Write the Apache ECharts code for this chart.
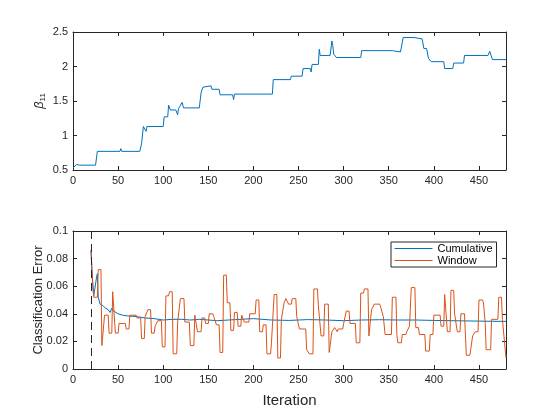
<!DOCTYPE html>
<html>
<head>
<meta charset="utf-8">
<script src="https://cdn.jsdelivr.net/npm/echarts@6/dist/echarts.min.js"></script>
<style>
html, body { margin: 0; padding: 0; background: #fff; }
#main { width: 560px; height: 420px; }
</style>
</head>
<body>
<div id="main"></div>
<script>
// beta_11 estimate, step points
const betaIter = [0, 1, 4, 6, 7, 25, 27, 52, 53, 54, 74, 76, 78, 80, 81, 82, 100, 101, 105, 106,
	107, 108, 114, 116, 117, 119, 121, 122.5, 140, 142, 144, 145, 153, 154, 162, 163, 177, 178, 179, 221,
	222, 241, 242, 254, 255, 263, 264, 265, 272, 273, 274, 285, 287, 288, 289, 291, 292, 319, 320, 354,
	355, 363, 366, 378, 379, 387, 389, 392, 394, 397, 411, 412, 421, 422, 433, 434, 460, 461, 462, 463,
	465, 480];
const beta11 = [0.53, 0.55, 0.58, 0.58, 0.57, 0.57, 0.77, 0.77, 0.81, 0.77, 0.77, 0.88, 1.13, 1.12, 1.06, 1.13, 1.13, 1.27, 1.27, 1.44,
	1.45, 1.37, 1.37, 1.30, 1.39, 1.39, 1.48, 1.40, 1.40, 1.62, 1.70, 1.72, 1.72, 1.67, 1.67, 1.59, 1.59, 1.52, 1.60, 1.60,
	1.81, 1.81, 1.86, 1.86, 1.97, 1.97, 1.92, 2.03, 2.03, 2.25, 2.16, 2.16, 2.37, 2.30, 2.18, 2.17, 2.13, 2.13, 2.23, 2.23,
	2.21, 2.21, 2.42, 2.42, 2.40, 2.40, 2.26, 2.26, 2.12, 2.07, 2.07, 1.97, 1.97, 2.05, 2.05, 2.16, 2.16, 2.14, 2.22, 2.21,
	2.10, 2.10];

// cumulative classification error
const cumIter = [20, 21, 22, 23, 25, 26, 27, 28, 30, 33, 36, 39, 41, 43, 45, 50, 55, 60, 70, 80, 90, 100,
	110, 120, 130, 140, 150, 160, 180, 200, 220, 240, 260, 280, 300, 320, 340, 360, 380, 400, 420, 440, 460, 480];
const cumErr = [0.086, 0.072, 0.061, 0.053, 0.052, 0.066, 0.069, 0.052, 0.047, 0.046, 0.044, 0.043, 0.041, 0.044, 0.042, 0.040, 0.039, 0.0385, 0.038, 0.037, 0.0365, 0.0355,
	0.036, 0.036, 0.0355, 0.036, 0.0355, 0.035, 0.0358, 0.0365, 0.0355, 0.0352, 0.0358, 0.0355, 0.035, 0.0355, 0.0357, 0.0355, 0.0355, 0.0352, 0.035, 0.0348, 0.0346, 0.0345];

// windowed classification error
const winIter = [20, 21, 22, 23, 27, 28, 31, 32, 34, 35, 39, 40, 43, 44, 46, 47, 50, 51, 58, 59,
	62, 63, 70, 71, 75, 76, 79, 80, 82, 83, 86, 87, 90, 91, 93, 94, 98, 99, 102, 103,
	106, 107, 110, 111, 115, 116, 118, 119, 123, 124, 129, 130, 134, 135, 137, 138, 142, 143, 146, 147,
	150, 151, 155, 156, 158, 159, 162, 163, 166, 167, 170, 171, 174, 175, 178, 179, 182, 183, 186, 187,
	189, 190, 195, 196, 202, 203, 206, 207, 210, 211, 214, 215, 219, 220, 222, 223, 226, 227, 230, 231,
	233, 234, 236, 238, 239, 242, 243, 247, 248, 250, 251, 258, 259, 261, 262, 266, 267, 271, 272, 274,
	275, 278, 279, 283, 284, 286, 287, 289, 290, 292, 293, 294, 299, 300, 302, 303, 306, 307, 313, 314,
	318, 319, 322, 323, 327, 328, 330, 331, 333, 334, 340, 341, 343, 344, 345, 346, 353, 354, 358, 359,
	360, 364, 365, 369, 370, 372, 373, 374, 375, 379, 380, 383, 384, 390, 391, 395, 396, 399, 400, 407,
	408, 411, 412, 414, 415, 418, 419, 422, 423, 425, 426, 429, 430, 434, 436, 440, 441, 442, 443, 445,
	446, 449, 450, 454, 455, 456, 457, 458, 463, 464, 471, 472, 475, 476, 478, 480];
const winErr = [0.086, 0.070, 0.060, 0.052, 0.052, 0.072, 0.072, 0.017, 0.017, 0.039, 0.039, 0.026, 0.026, 0.056, 0.056, 0.026, 0.026, 0.033, 0.033, 0.029,
	0.029, 0.039, 0.039, 0.037, 0.037, 0.022, 0.022, 0.038, 0.038, 0.043, 0.043, 0.026, 0.026, 0.031, 0.031, 0.035, 0.035, 0.016, 0.016, 0.053,
	0.053, 0.056, 0.056, 0.011, 0.011, 0.034, 0.034, 0.051, 0.051, 0.034, 0.034, 0.017, 0.017, 0.039, 0.039, 0.027, 0.027, 0.037, 0.037, 0.033,
	0.033, 0.040, 0.040, 0.038, 0.038, 0.032, 0.032, 0.012, 0.012, 0.068, 0.068, 0.048, 0.048, 0.028, 0.028, 0.041, 0.041, 0.031, 0.031, 0.039,
	0.039, 0.034, 0.034, 0.040, 0.040, 0.050, 0.050, 0.027, 0.027, 0.032, 0.032, 0.011, 0.011, 0.019, 0.019, 0.054, 0.054, 0.008, 0.008, 0.036,
	0.036, 0.048, 0.051, 0.051, 0.047, 0.047, 0.051, 0.051, 0.038, 0.038, 0.029, 0.029, 0.014, 0.014, 0.011, 0.011, 0.058, 0.058, 0.046, 0.046,
	0.024, 0.024, 0.047, 0.047, 0.012, 0.012, 0.027, 0.027, 0.030, 0.030, 0.027, 0.029, 0.029, 0.033, 0.033, 0.042, 0.042, 0.033, 0.033, 0.019,
	0.019, 0.055, 0.055, 0.058, 0.058, 0.024, 0.024, 0.043, 0.043, 0.047, 0.047, 0.045, 0.045, 0.038, 0.038, 0.025, 0.025, 0.052, 0.052, 0.025,
	0.019, 0.019, 0.025, 0.025, 0.027, 0.027, 0.031, 0.031, 0.059, 0.059, 0.030, 0.030, 0.025, 0.025, 0.013, 0.013, 0.025, 0.025, 0.039, 0.039,
	0.031, 0.031, 0.054, 0.054, 0.027, 0.027, 0.057, 0.057, 0.040, 0.040, 0.027, 0.027, 0.040, 0.040, 0.010, 0.010, 0.011, 0.011, 0.024, 0.024,
	0.027, 0.027, 0.050, 0.050, 0.048, 0.048, 0.033, 0.014, 0.014, 0.036, 0.036, 0.052, 0.052, 0.036, 0.036, 0.008];

const warmup = 20; // dashed line
const legendNames = ['Cumulative', 'Window'];

const zip = (xs, ys) => xs.map((x, i) => [x, ys[i]]);

const axisColor = '#262626';
const fontFamily = '"Liberation Sans", Arial, Helvetica, sans-serif';

// one x/y axis with ticks inside, like a MATLAB box
function xAx(grid, top, extra) {
	return Object.assign({
		gridIndex: grid,
		type: 'value',
		position: top ? 'top' : 'bottom',
		min: 0, max: 480, interval: 50,
		axisLine: { show: true, onZero: false, lineStyle: { color: axisColor, width: 1 } },
		axisTick: { show: true, inside: true, length: 4, lineStyle: { color: axisColor } },
		axisLabel: { show: !top, showMaxLabel: false, color: axisColor, fontSize: 11, fontFamily: fontFamily, margin: 5 },
		splitLine: { show: false }
	}, extra || {});
}
function yAx(grid, right, min, max, interval, extra) {
	return Object.assign({
		gridIndex: grid,
		type: 'value',
		position: right ? 'right' : 'left',
		min: min, max: max, interval: interval,
		axisLine: { show: true, onZero: false, lineStyle: { color: axisColor, width: 1 } },
		axisTick: { show: true, inside: true, length: 4, lineStyle: { color: axisColor } },
		axisLabel: { show: !right, color: axisColor, fontSize: 11, fontFamily: fontFamily, margin: 5 },
		splitLine: { show: false }
	}, extra || {});
}

const option = {
	animation: false,
	backgroundColor: '#fff',
	grid: [
		{ left: 73, top: 32, width: 433, height: 138, show: true, backgroundColor: '#fff', borderWidth: 0 },
		{ left: 73, top: 231, width: 433, height: 138, show: true, backgroundColor: '#fff', borderWidth: 0 }
	],
	xAxis: [
		xAx(0, false),
		xAx(0, true),
		xAx(1, false, {
			name: 'Iteration',
			nameLocation: 'middle',
			nameGap: 24,
			nameMoveOverlap: false,
			nameTextStyle: { color: axisColor, fontSize: 15, fontFamily: fontFamily }
		}),
		xAx(1, true)
	],
	yAxis: [
		yAx(0, false, 0.5, 2.5, 0.5, {
			name: '{b|β}{s|11}',
			nameLocation: 'middle',
			nameGap: 26,
			nameMoveOverlap: false,
			nameTextStyle: {
				color: axisColor,
				rich: {
					b: { fontSize: 13, fontStyle: 'italic', fontFamily: fontFamily, color: axisColor },
					s: { fontSize: 8, fontFamily: fontFamily, color: axisColor, padding: [7, 0, 0, 0] }
				}
			}
		}),
		yAx(0, true, 0.5, 2.5, 0.5),
		yAx(1, false, 0, 0.1, 0.02, {
			name: 'Classification Error',
			nameLocation: 'middle',
			nameGap: 28,
			nameMoveOverlap: false,
			nameTextStyle: { color: axisColor, fontSize: 13, fontFamily: fontFamily }
		}),
		yAx(1, true, 0, 0.1, 0.02)
	],
	legend: {
		data: legendNames,
		orient: 'vertical',
		left: 391,
		top: 242,
		backgroundColor: '#fff',
		borderColor: axisColor,
		borderWidth: 1,
		borderRadius: 0,
		padding: [1, 4, 1, 3],
		itemGap: 1,
		itemWidth: 38,
		itemHeight: 12,
		itemStyle: { opacity: 0 },
		lineStyle: { width: 1 },
		textStyle: { color: '#000', fontSize: 11, fontFamily: fontFamily }
	},
	series: [
		{
			name: 'beta11',
			type: 'line',
			xAxisIndex: 0, yAxisIndex: 0,
			data: zip(betaIter, beta11),
			symbol: 'none',
			lineStyle: { color: '#0072BD', width: 1 },
			itemStyle: { color: '#0072BD' }
		},
		{
			name: legendNames[0],
			type: 'line',
			xAxisIndex: 2, yAxisIndex: 2,
			data: zip(cumIter, cumErr),
			symbol: 'none',
			lineStyle: { color: '#0072BD', width: 1 },
			itemStyle: { color: '#0072BD' }
		},
		{
			name: legendNames[1],
			type: 'line',
			xAxisIndex: 2, yAxisIndex: 2,
			data: zip(winIter, winErr),
			symbol: 'none',
			lineStyle: { color: '#D95319', width: 1 },
			itemStyle: { color: '#D95319' },
			markLine: {
				silent: true,
				symbol: ['none', 'none'],
				label: { show: false },
				lineStyle: { color: axisColor, type: [8, 5], width: 1 },
				data: [{ xAxis: warmup }]
			}
		}
	]
};

const chart = echarts.init(document.getElementById('main'));
chart.setOption(option);
</script>
</body>
</html>
